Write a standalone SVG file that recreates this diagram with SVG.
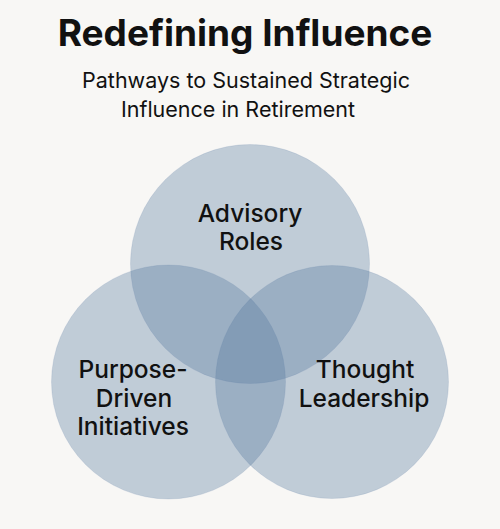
<svg xmlns="http://www.w3.org/2000/svg" width="500" height="529" viewBox="0 0 500 529">
<style>
.title{font-family:Inter,"Liberation Sans",sans-serif;font-weight:700;font-size:37px;fill:#111;text-anchor:middle}
.sub{font-family:Inter,"Liberation Sans",sans-serif;font-weight:400;font-size:21.5px;fill:#111;text-anchor:middle}
.lbl{font-family:Inter,"Liberation Sans",sans-serif;font-weight:500;font-size:24.5px;fill:#111;text-anchor:middle}
.c{fill:#56789f;fill-opacity:0.34;stroke:#56789f;stroke-opacity:0.15;stroke-width:1}
</style>
<rect width="500" height="529" fill="#f8f7f5"/>
<text class="title" x="245" y="46">Redefining Influence</text>
<text class="sub" x="246" y="88">Pathways to Sustained Strategic</text>
<text class="sub" x="238" y="117">Influence in Retirement</text>
<g id="advisory">
<circle class="c" cx="250" cy="264" r="119.5"/>
<text class="lbl" x="250" y="222">Advisory</text>
<text class="lbl" x="251" y="250">Roles</text>
</g>
<g id="purpose">
<circle class="c" cx="168.5" cy="382" r="117"/>
<text class="lbl" x="133" y="378">Purpose-</text>
<text class="lbl" x="134" y="407">Driven</text>
<text class="lbl" x="133" y="435">Initiatives</text>
</g>
<g id="thought">
<circle class="c" cx="332" cy="382" r="116.5"/>
<text class="lbl" x="365" y="378">Thought</text>
<text class="lbl" x="364" y="407">Leadership</text>
</g>
<g id="connectors"/>
</svg>
